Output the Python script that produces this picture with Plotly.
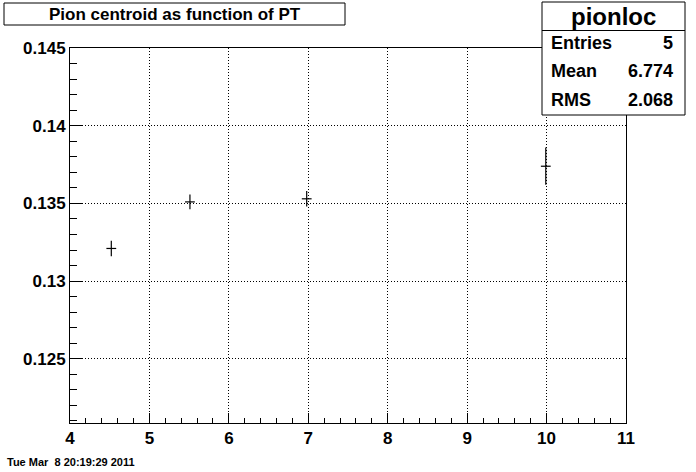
import plotly.graph_objects as go

# Data
pt = [4.52, 5.51, 6.98, 9.99]
centroid = [0.1321, 0.1351, 0.1353, 0.1374]
centroid_err = [0.0005, 0.00047, 0.0005, 0.0012]

title_text = "Pion centroid as function of PT"
stats_name = "pionloc"
stats_labels = ["Entries", "Mean", "RMS"]
stats_values = ["5", "6.774", "2.068"]
date_text = "Tue Mar  8 20:19:29 2011"

W, H = 696, 472
L, R, T, B = 70, 70, 48, 49
PW, PH = W - L - R, H - T - B


def px(x):
    return (x - L) / PW


def py(y):
    return (H - B - y) / PH


FONT = "Liberation Sans, Arial, Helvetica, sans-serif"
NARROW = "Liberation Sans Narrow, Arial Narrow, Liberation Sans, sans-serif"

fig = go.Figure()
fig.add_trace(go.Scatter(
    x=pt, y=centroid, mode="markers",
    marker=dict(symbol="line-ew", size=7, color="black",
                line=dict(color="black", width=1.2)),
    error_y=dict(type="data", array=centroid_err, visible=True,
                 width=0, thickness=1.2, color="black"),
    showlegend=False, hoverinfo="x+y",
))

axis_common = dict(
    showline=True, linecolor="black", linewidth=1, mirror=True,
    ticks="inside", tickcolor="black", tickwidth=1,
    showgrid=True, gridcolor="black", gridwidth=1, griddash="1px,2px",
    zeroline=False,
    tickfont=dict(family=FONT, size=17, color="black", weight="bold"),
)

fig.update_layout(
    width=W, height=H,
    margin=dict(l=L, r=R, t=T, b=B, pad=0),
    paper_bgcolor="white", plot_bgcolor="white",
    font=dict(family=FONT, color="black", weight="bold"),
    xaxis=dict(range=[4, 11], tick0=4, dtick=1, ticklen=10,
               minor=dict(ticks="inside", ticklen=5, tick0=4, dtick=0.2,
                          tickcolor="black", showgrid=False),
               **axis_common),
    yaxis=dict(range=[0.12085, 0.14502], tick0=0.125, dtick=0.005,
               tickformat="~g", ticklen=13,
               minor=dict(ticks="inside", ticklen=7, tick0=0.125, dtick=0.001,
                          tickcolor="black", showgrid=False),
               **axis_common),
)

shapes = [
    # title box
    dict(type="rect", xref="paper", yref="paper",
         x0=px(4), x1=px(345), y0=py(25), y1=py(3),
         line=dict(color="black", width=1), fillcolor="white", layer="above"),
    # stats box
    dict(type="rect", xref="paper", yref="paper",
         x0=px(542), x1=px(685), y0=py(115), y1=py(2),
         line=dict(color="black", width=1), fillcolor="white", layer="above"),
    dict(type="line", xref="paper", yref="paper",
         x0=px(542), x1=px(685), y0=py(30.5), y1=py(30.5),
         line=dict(color="black", width=1), layer="above"),
]
fig.update_layout(shapes=shapes)

ann = [
    dict(text=title_text, x=px(174.5), y=py(14), xanchor="center", yanchor="middle",
         font=dict(size=17)),
    dict(text=stats_name, x=px(613.5), y=py(16), xanchor="center", yanchor="middle",
         font=dict(size=24)),
    dict(text=date_text, x=px(5), y=py(462), xanchor="left", yanchor="middle",
         font=dict(size=11, family=NARROW)),
]
row_y = [43, 71, 100]
for lab, val, yy in zip(stats_labels, stats_values, row_y):
    ann.append(dict(text=lab, x=px(549), y=py(yy), xanchor="left", yanchor="middle",
                    font=dict(size=18)))
    ann.append(dict(text=val, x=px(675), y=py(yy), xanchor="right", yanchor="middle",
                    font=dict(size=18)))
for a in ann:
    a.update(xref="paper", yref="paper", showarrow=False)
    a["font"].setdefault("family", FONT)
    a["font"].update(color="black", weight="bold")
fig.update_layout(annotations=ann)

fig.write_html(
    "out.html",
    config={"displayModeBar": False},
    post_script="document.body.style.margin='0';document.body.style.padding='0';",
)
